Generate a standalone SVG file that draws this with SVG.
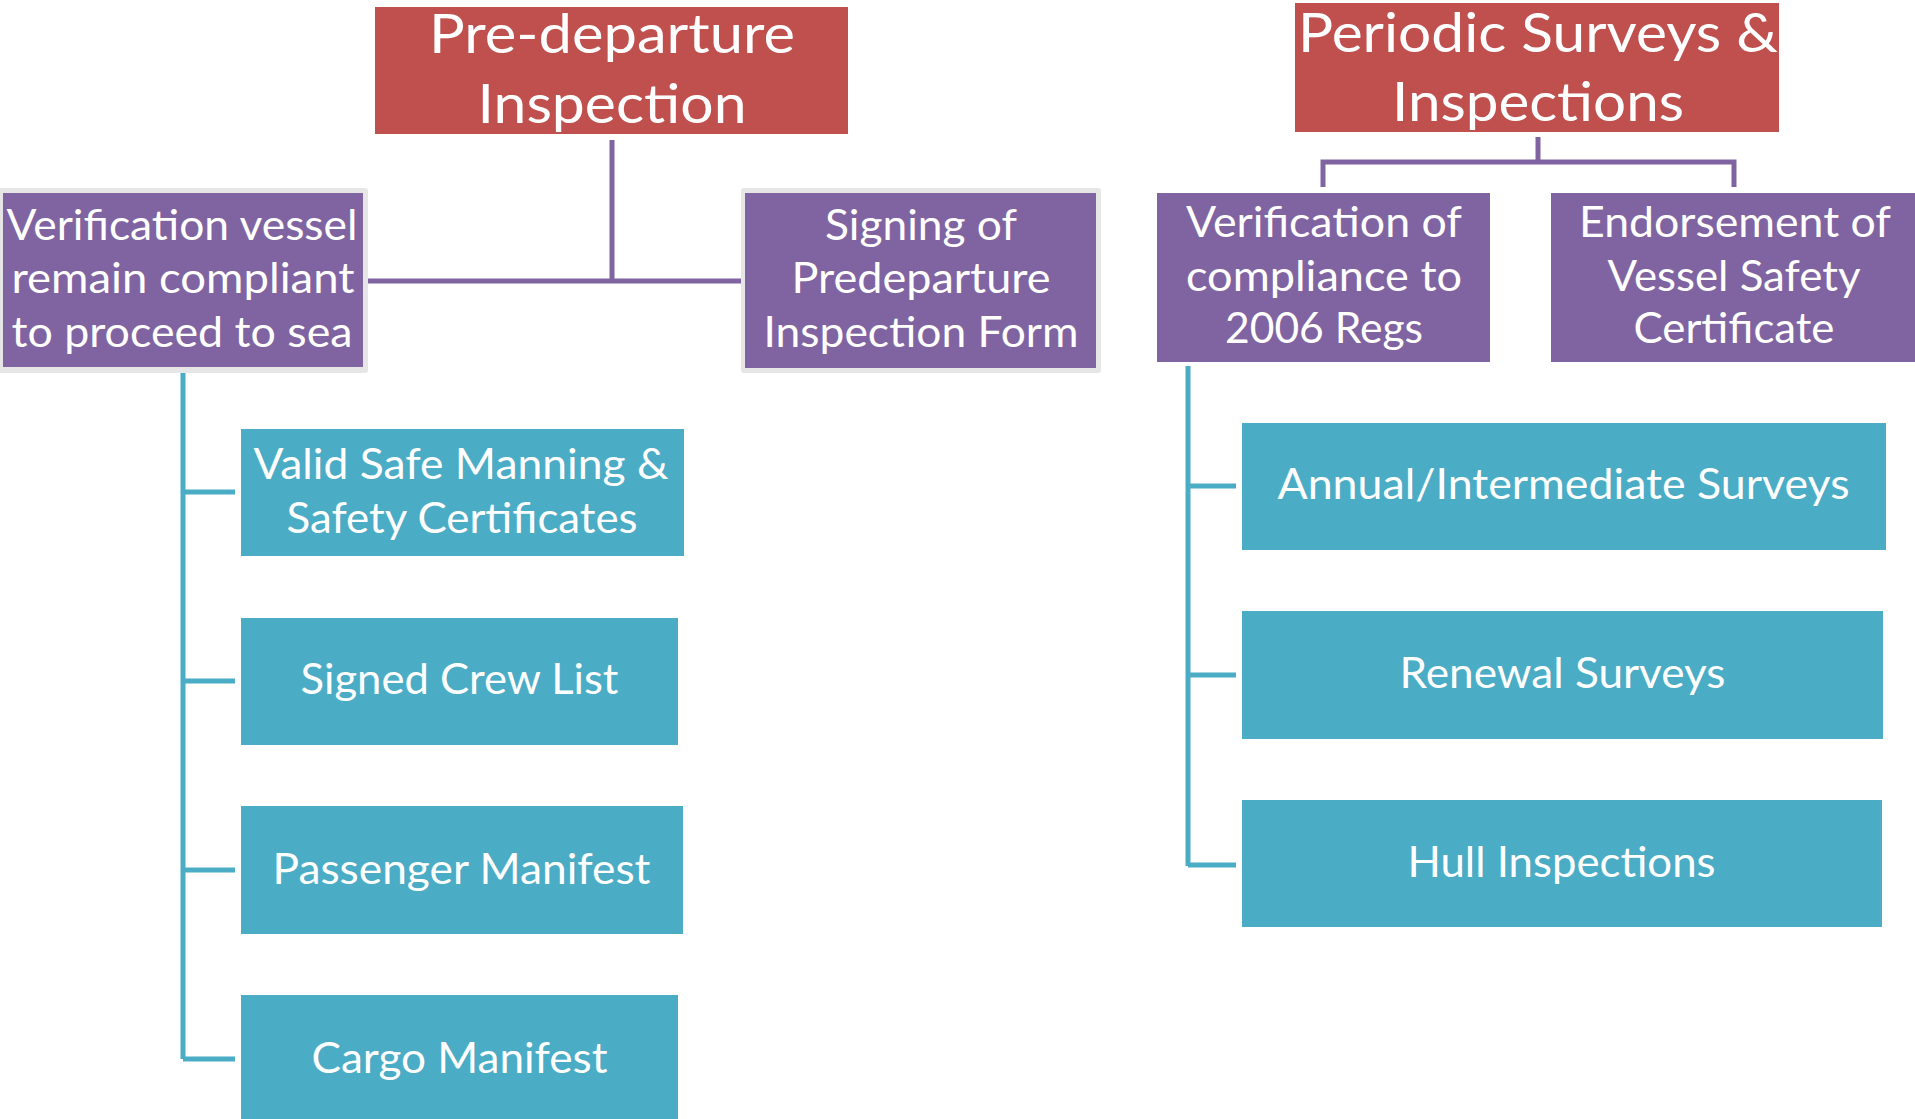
<svg xmlns="http://www.w3.org/2000/svg" width="1915" height="1119" viewBox="0 0 1915 1119">
<style>
.red{fill:#C0504D}
.pur{fill:#8064A2}
.teal{fill:#4BACC6}
.frame{fill:#E6E6E6}
.t{font-family:Lato,"Open Sans","Liberation Sans",sans-serif;fill:#FFFFFF;text-anchor:middle}
.big{font-size:54px}
.mid{font-size:42px}
.cp{fill:none;stroke:#8064A2;stroke-width:5}
.ct{fill:none;stroke:#4BACC6;stroke-width:5}
</style>
<rect width="1915" height="1119" fill="#FFFFFF"/>
<g id="connectors">
<path class="cp" d="M612 140V281M368 281H741"/>
<path class="cp" d="M1538 137V162M1323 187V162H1734V187"/>
<path class="ct" d="M183 373V1059M183 492H235M183 681H235M183 870H235M183 1059H235"/>
<path class="ct" d="M1188 366V866M1188 486H1236M1188 675H1236M1188 865H1236"/>
</g>
<g id="pre-departure">
<rect class="red" x="375" y="7" width="473" height="127"/>
<text class="t big" x="612" y="53" textLength="366" lengthAdjust="spacingAndGlyphs">Pre-departure</text>
<text class="t big" x="612" y="123" textLength="269" lengthAdjust="spacingAndGlyphs">Inspection</text>
</g>
<g id="periodic">
<rect class="red" x="1295" y="3" width="484" height="129"/>
<text class="t big" x="1538" y="52" textLength="480" lengthAdjust="spacingAndGlyphs">Periodic Surveys &amp;</text>
<text class="t big" x="1538" y="121" textLength="292" lengthAdjust="spacingAndGlyphs">Inspections</text>
</g>
<g id="verification-vessel">
<rect class="frame" x="-2" y="188" width="370" height="185" rx="3"/>
<rect class="pur" x="3" y="193" width="360" height="174"/>
<text class="t mid" x="182" y="240" textLength="351" lengthAdjust="spacingAndGlyphs">Verification vessel</text>
<text class="t mid" x="183" y="293" textLength="343" lengthAdjust="spacingAndGlyphs">remain compliant</text>
<text class="t mid" x="182" y="347" textLength="341" lengthAdjust="spacingAndGlyphs">to proceed to sea</text>
</g>
<g id="signing">
<rect class="frame" x="741" y="188" width="360" height="185" rx="3"/>
<rect class="pur" x="745" y="193" width="351" height="175"/>
<text class="t mid" x="921" y="240" textLength="192" lengthAdjust="spacingAndGlyphs">Signing of</text>
<text class="t mid" x="921" y="293" textLength="259" lengthAdjust="spacingAndGlyphs">Predeparture</text>
<text class="t mid" x="921" y="347" textLength="315" lengthAdjust="spacingAndGlyphs">Inspection Form</text>
</g>
<g id="verification-compliance">
<rect class="pur" x="1157" y="193" width="333" height="169"/>
<text class="t mid" x="1324" y="237" textLength="276" lengthAdjust="spacingAndGlyphs">Verification of</text>
<text class="t mid" x="1324" y="291" textLength="276" lengthAdjust="spacingAndGlyphs">compliance to</text>
<text class="t mid" x="1324" y="343" textLength="198" lengthAdjust="spacingAndGlyphs">2006 Regs</text>
</g>
<g id="endorsement">
<rect class="pur" x="1551" y="193" width="364" height="169"/>
<text class="t mid" x="1735" y="237" textLength="312" lengthAdjust="spacingAndGlyphs">Endorsement of</text>
<text class="t mid" x="1734" y="291" textLength="253" lengthAdjust="spacingAndGlyphs">Vessel Safety</text>
<text class="t mid" x="1734" y="343" textLength="201" lengthAdjust="spacingAndGlyphs">Certificate</text>
</g>
<g id="valid-safe-manning">
<rect class="teal" x="241" y="429" width="443" height="127"/>
<text class="t mid" x="461" y="479" textLength="415" lengthAdjust="spacingAndGlyphs">Valid Safe Manning &amp;</text>
<text class="t mid" x="462" y="533" textLength="351" lengthAdjust="spacingAndGlyphs">Safety Certificates</text>
</g>
<g id="signed-crew-list">
<rect class="teal" x="241" y="618" width="437" height="127"/>
<text class="t mid" x="459.5" y="694" textLength="318" lengthAdjust="spacingAndGlyphs">Signed Crew List</text>
</g>
<g id="passenger-manifest">
<rect class="teal" x="241" y="806" width="442" height="128"/>
<text class="t mid" x="461.5" y="884" textLength="378" lengthAdjust="spacingAndGlyphs">Passenger Manifest</text>
</g>
<g id="cargo-manifest">
<rect class="teal" x="241" y="995" width="437" height="124"/>
<text class="t mid" x="459.5" y="1073" textLength="296" lengthAdjust="spacingAndGlyphs">Cargo Manifest</text>
</g>
<g id="annual-surveys">
<rect class="teal" x="1242" y="423" width="644" height="127"/>
<text class="t mid" x="1563.5" y="499" textLength="572" lengthAdjust="spacingAndGlyphs">Annual/Intermediate Surveys</text>
</g>
<g id="renewal-surveys">
<rect class="teal" x="1242" y="611" width="641" height="128"/>
<text class="t mid" x="1562.5" y="688" textLength="326" lengthAdjust="spacingAndGlyphs">Renewal Surveys</text>
</g>
<g id="hull-inspections">
<rect class="teal" x="1242" y="800" width="640" height="127"/>
<text class="t mid" x="1561.5" y="877" textLength="308" lengthAdjust="spacingAndGlyphs">Hull Inspections</text>
</g>
</svg>
